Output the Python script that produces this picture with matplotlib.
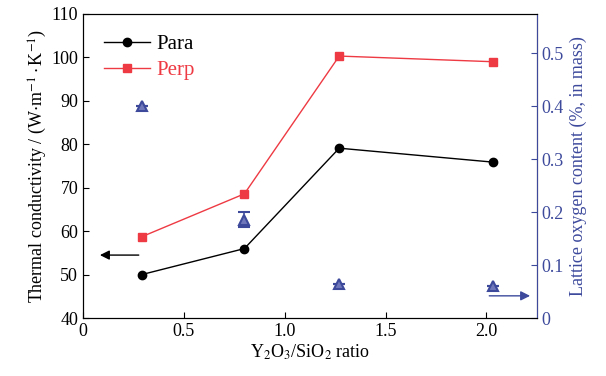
import numpy as np
from matplotlib import pyplot as plt

plt.rcParams['font.family'] = ['Liberation Serif', 'DejaVu Serif']
plt.rcParams['mathtext.fontset'] = 'stix'

ratio = [0.29, 0.80, 1.27, 2.03]
para = [50.0, 56.0, 79.1, 75.9]
perp = [58.7, 68.6, 100.3, 99.0]
oxygen = [0.40, 0.186, 0.065, 0.060]
oxygen_err = [0.0, 0.015, 0.0, 0.0]

blue = '#3d4a9c'
red = '#ee3a43'

fig, ax = plt.subplots(figsize=(6.06, 3.76), dpi=100)
fig.subplots_adjust(left=0.137, right=0.886, top=0.963, bottom=0.154)

ax.plot(ratio, para, '-o', color='black', lw=1.0, ms=6, label='Para')
ax.plot(ratio, perp, '-s', color=red, lw=1.0, ms=5.5, label='Perp')
ax.set_xlim(0, 2.25)
ax.set_ylim(40, 110)
ax.set_xticks([0, 0.5, 1.0, 1.5, 2.0])
ax.set_xticklabels(['0', '0.5', '1.0', '1.5', '2.0'])
ax.set_yticks(np.arange(40, 111, 10))
ax.tick_params(direction='in', labelsize=13, length=4)
ax.set_xlabel('Y$_2$O$_3$/SiO$_2$ ratio', fontsize=13, labelpad=2)
ax.set_ylabel('Thermal conductivity / (W$\\cdot$m$^{-1}\\cdot$K$^{-1}$)', fontsize=13, labelpad=2)

leg = ax.legend(loc='upper left', fontsize=15, frameon=False, handlelength=2.2,
                handletextpad=0.3, borderaxespad=0.6, labelspacing=0.3)
leg.get_texts()[1].set_color(red)

ax.annotate('', xy=(0.07, 54.5), xytext=(0.29, 54.5),
            arrowprops=dict(arrowstyle='-|>', color='black', lw=1.0, mutation_scale=14))

ax2 = ax.twinx()
ax2.errorbar(ratio, oxygen, yerr=oxygen_err, fmt='^', color=blue, mfc='#7078bb',
             mec=blue, mew=1.5, ms=6.5, capsize=4, elinewidth=1.2, capthick=1.2)
ax2.set_ylim(0, 0.574)
ax2.set_yticks([0, 0.1, 0.2, 0.3, 0.4, 0.5])
ax2.set_yticklabels(['0', '0.1', '0.2', '0.3', '0.4', '0.5'])
ax2.tick_params(direction='in', labelsize=13, length=4, colors=blue)
ax2.spines['right'].set_color(blue)
ax2.set_ylabel('Lattice oxygen content (%, in mass)', fontsize=13, color=blue, labelpad=4)

ax2.annotate('', xy=(2.23, 0.042), xytext=(2.0, 0.042),
             arrowprops=dict(arrowstyle='-|>', color=blue, lw=1.0, mutation_scale=14))

fig.savefig('out.png', dpi=100)
